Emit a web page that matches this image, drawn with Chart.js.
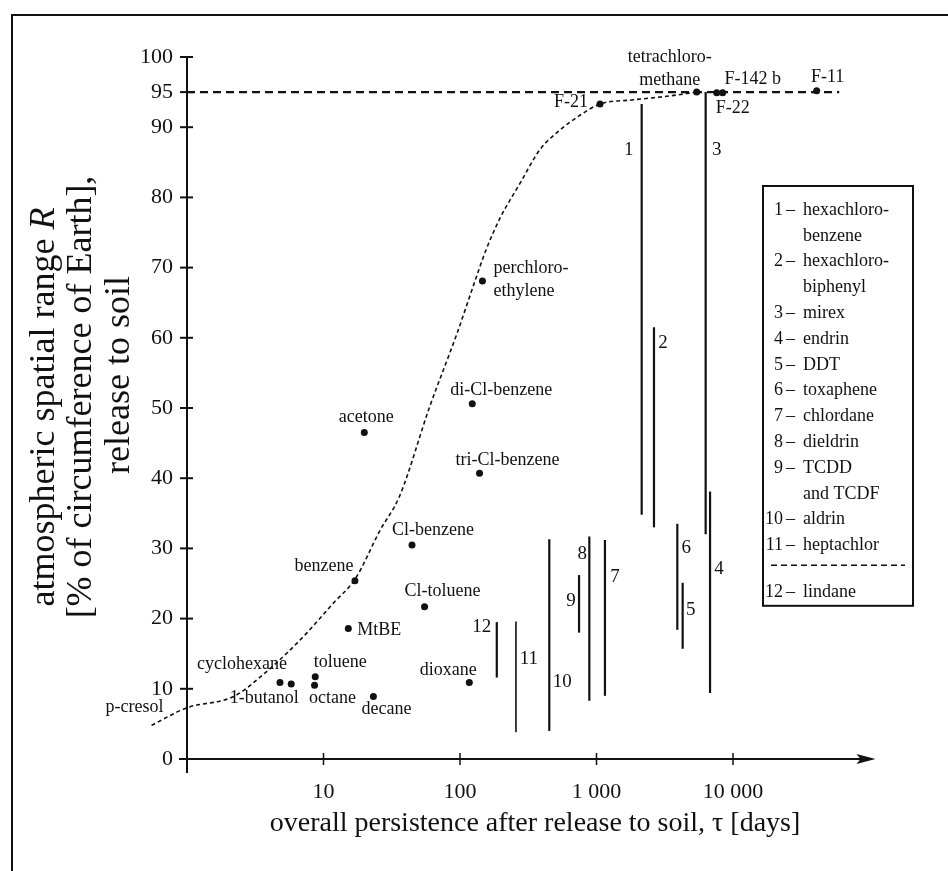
<!DOCTYPE html>
<html lang="en">
<head>
<meta charset="UTF-8">
<title>Atmospheric spatial range vs. persistence</title>
<style>
  html, body { margin: 0; padding: 0; background: #fff; }
  #wrap { width: 948px; height: 871px; position: relative; }
</style>
</head>
<body>
<div id="wrap"><canvas id="chart"></canvas></div>

<script src="https://cdn.jsdelivr.net/npm/chart.js"></script>
<script>
// single compounds: overall persistence tau [days] and spatial range R [%]
const compoundNames = ['p-cresol', 'cyclohexane', '1-butanol', 'toluene', 'octane', 'MtBE', 'decane',
  'dioxane', 'Cl-toluene', 'benzene', 'Cl-benzene', 'acetone', 'tri-Cl-benzene', 'di-Cl-benzene',
  'perchloro-\nethylene', 'F-21', 'tetrachloro-\nmethane', 'F-22', 'F-142 b', 'F-11'];
const compoundTau = [0.55, 4.8, 5.8, 8.7, 8.6, 15.2, 23.2, 117, 55, 17, 44.5, 19.9, 139, 123, 146,
  1061, 5420, 7600, 8400, 41000];
const compoundR = [4.8, 10.9, 10.7, 11.7, 10.5, 18.6, 8.9, 10.9, 21.7, 25.4, 30.5, 46.5, 40.7, 50.6, 68.1,
  93.3, 95, 94.9, 94.9, 95.2];

// numbered substances: ranges of R at a given tau
const rangeIds = ['1', '2', '3', '4', '5', '6', '7', '8', '9', '10', '11', '12'];
const rangeTau = [2143, 2637, 6305, 6790, 4277, 3909, 1153, 886, 745, 451, 257, 186];
const rangeLow = [34.8, 33.0, 32.0, 9.4, 15.7, 18.4, 9.0, 8.3, 18.0, 4.0, 3.8, 11.6];
const rangeHigh = [93.3, 61.5, 95, 38.1, 25.1, 33.5, 31.2, 31.7, 26.2, 31.3, 19.6, 19.5];

// dashed trend curve
const curveTau = [0.55, 1, 2.2, 3.6, 5.4, 7.5, 11.8, 17, 26, 36, 60, 95, 132, 155, 196, 275, 385, 540,
  757, 1061, 1860, 3270, 5420];
const curveR = [4.8, 7.3, 8.9, 12.0, 15.1, 17.9, 22.2, 25.6, 32.6, 37.4, 50.2, 60.6, 68.7, 72.5, 77, 82,
  86.8, 89.6, 91.7, 93.3, 93.9, 94.4, 95];

// 95 % plateau
const plateauTau = [1, 60000];
const plateauR = [95, 95];

// axes
const xTicks = [10, 100, 1000, 10000];
const xTickLabels = ['10', '100', '1 000', '10 000'];
const yTicks = [0, 10, 20, 30, 40, 50, 60, 70, 80, 90, 95, 100];

// legend box
const legendNums = ['1', '', '2', '', '3', '4', '5', '6', '7', '8', '9', '', '10', '11', '12'];
const legendText = ['hexachloro-', 'benzene', 'hexachloro-', 'biphenyl', 'mirex', 'endrin', 'DDT',
  'toxaphene', 'chlordane', 'dieldrin', 'TCDD', 'and TCDF', 'aldrin', 'heptachlor', 'lindane'];

// label placement (pixels relative to the point): dx, dy, align
const compoundLabelPos = [
  [-17, -18, 'center'], [-38, -18, 'center'], [-27, 14, 'center'], [25, -15, 'center'],
  [18, 13, 'center'], [9, 2, 'left'], [13, 13, 'center'], [-21, -12, 'center'],
  [18, -15, 'center'], [-31, -14, 'center'], [21, -15, 'center'], [2, -15, 'center'],
  [28, -13, 'center'], [29, -14, 'center'], [11, -13, 'left'], [-12, -2, 'right'],
  [-27, -35, 'center'], [16, 15, 'center'], [30, -14, 'center'], [11, -13, 'center']
];
// range number placement: dx from the bar, dy below the bar top
const rangeLabelPos = [[-13, 46], [9, 16], [11, 58], [9, 77], [8, 27], [9, 24], [10, 37], [-7, 18],
  [-8, 26], [13, 143], [13, 38], [-15, 5]];

const ink = '#111';
const serif = "'Liberation Serif', 'DejaVu Serif', serif";

const datasets = [];
datasets.push({
  label: 'compounds',
  data: compoundTau.map((t, i) => ({ x: t, y: compoundR[i] })),
  showLine: false,
  pointRadius: 3.5,
  pointBackgroundColor: ink,
  pointBorderWidth: 0,
  clip: false
});
datasets.push({
  label: 'trend',
  data: curveTau.map((t, i) => ({ x: t, y: curveR[i] })),
  showLine: true,
  borderColor: ink,
  borderWidth: 1.6,
  borderDash: [4, 3],
  pointRadius: 0,
  cubicInterpolationMode: 'monotone',
  clip: false
});
datasets.push({
  label: 'plateau',
  data: plateauTau.map((t, i) => ({ x: t, y: plateauR[i] })),
  showLine: true,
  borderColor: ink,
  borderWidth: 2.2,
  borderDash: [8, 5],
  pointRadius: 0,
  clip: false
});
rangeTau.forEach((t, i) => {
  datasets.push({
    label: 'range ' + rangeIds[i],
    data: [{ x: t, y: rangeLow[i] }, { x: t, y: rangeHigh[i] }],
    showLine: true,
    borderColor: ink,
    borderWidth: i === 10 ? 1.6 : 2.2,
    pointRadius: 0,
    clip: false
  });
});

function drawText(ctx, text, x, y, align, lineH) {
  ctx.textAlign = align;
  text.split('\n').forEach((line, k) => ctx.fillText(line, x, y + k * lineH));
}

const annotate = {
  id: 'annotate',
  beforeDatasetsDraw(chart) {
    const ctx = chart.ctx;
    const xs = chart.scales.x, ys = chart.scales.y;
    const x0 = xs.getPixelForValue(1), y0 = ys.getPixelForValue(0);
    const yTop = ys.getPixelForValue(100);
    ctx.save();
    ctx.strokeStyle = ink;
    ctx.fillStyle = ink;

    // frame
    ctx.lineWidth = 2;
    ctx.beginPath();
    ctx.moveTo(12, 871); ctx.lineTo(12, 15); ctx.lineTo(948, 15);
    ctx.stroke();

    // y axis
    ctx.lineWidth = 2;
    ctx.beginPath();
    ctx.moveTo(x0, y0 + 14); ctx.lineTo(x0, yTop);
    ctx.stroke();
    yTicks.forEach(v => {
      const p = ys.getPixelForValue(v);
      ctx.beginPath(); ctx.moveTo(x0 - 7, p); ctx.lineTo(x0 + 6, p); ctx.stroke();
    });

    // x axis with arrow
    const xEnd = xs.right + 6;
    ctx.beginPath();
    ctx.moveTo(x0 - 8, y0); ctx.lineTo(xEnd - 10, y0);
    ctx.stroke();
    ctx.beginPath();
    ctx.moveTo(xEnd, y0); ctx.lineTo(xEnd - 19, y0 - 5); ctx.lineTo(xEnd - 15, y0); ctx.lineTo(xEnd - 19, y0 + 5);
    ctx.closePath(); ctx.fill();
    ctx.lineWidth = 1.5;
    xTicks.forEach(v => {
      const p = xs.getPixelForValue(v);
      ctx.beginPath(); ctx.moveTo(p, y0 - 6); ctx.lineTo(p, y0 + 6); ctx.stroke();
    });
    ctx.restore();
  },
  afterDatasetsDraw(chart) {
    const ctx = chart.ctx;
    const xs = chart.scales.x, ys = chart.scales.y;
    ctx.save();
    ctx.fillStyle = ink;
    ctx.strokeStyle = ink;
    ctx.textBaseline = 'middle';

    // compound labels
    ctx.font = '18px ' + serif;
    compoundNames.forEach((name, i) => {
      const px = xs.getPixelForValue(compoundTau[i]);
      const py = ys.getPixelForValue(compoundR[i]);
      const [dx, dy, align] = compoundLabelPos[i];
      drawText(ctx, name, px + dx, py + dy, align, 23);
    });

    // range numbers
    ctx.font = '19px ' + serif;
    rangeIds.forEach((id, i) => {
      const px = xs.getPixelForValue(rangeTau[i]);
      const top = ys.getPixelForValue(rangeHigh[i]);
      const [dx, dy] = rangeLabelPos[i];
      ctx.textAlign = 'center';
      ctx.fillText(id, px + dx, top + dy);
    });

    // legend box
    const bx = 763, by = 186, bw = 150, rowH = 25.8;
    let rowY = by + 24;
    ctx.font = '18px ' + serif;
    legendText.forEach((txt, i) => {
      if (legendNums[i] === '12') {
        ctx.save();
        ctx.lineWidth = 1.5;
        ctx.setLineDash([6, 4]);
        ctx.beginPath();
        ctx.moveTo(bx + 8, rowY - 6); ctx.lineTo(bx + bw - 8, rowY - 6);
        ctx.stroke();
        ctx.restore();
        rowY += rowH - 5;
      }
      if (legendNums[i]) {
        ctx.textAlign = 'right';
        ctx.fillText(legendNums[i], bx + 20, rowY);
        ctx.textAlign = 'left';
        ctx.fillText('\u2013', bx + 23, rowY);
      }
      ctx.textAlign = 'left';
      ctx.fillText(txt, bx + 40, rowY);
      rowY += rowH;
    });
    ctx.lineWidth = 2;
    ctx.strokeRect(bx, by, bw, rowY - by - 12);

    // axis titles
    ctx.font = '28px ' + serif;
    ctx.textAlign = 'center';
    ctx.fillText('overall persistence after release to soil, \u03c4 [days]', 535, 824);

    ctx.save();
    ctx.rotate(-Math.PI / 2);
    const ySize = 36;
    ctx.font = ySize + 'px ' + serif;
    const part1 = 'atmospheric spatial range ';
    const w1 = ctx.measureText(part1).width;
    ctx.font = 'italic ' + ySize + 'px ' + serif;
    const w2 = ctx.measureText('R').width;
    const start = -407 - (w1 + w2) / 2;
    ctx.textAlign = 'left';
    ctx.font = ySize + 'px ' + serif;
    ctx.fillText(part1, start, 45);
    ctx.font = 'italic ' + ySize + 'px ' + serif;
    ctx.fillText('R', start + w1, 45);
    ctx.font = ySize + 'px ' + serif;
    ctx.textAlign = 'center';
    ctx.fillText('[% of circumference of Earth],', -397, 82);
    ctx.fillText('release to soil', -375, 120);
    ctx.restore();

    ctx.restore();
  }
};

new Chart(document.getElementById('chart'), {
  type: 'scatter',
  data: { datasets },
  options: {
    responsive: true,
    maintainAspectRatio: false,
    animation: false,
    devicePixelRatio: 1,
    layout: { padding: { top: 57, right: 78.5, bottom: 0, left: 0 } },
    plugins: { legend: { display: false }, tooltip: { enabled: false } },
    scales: {
      x: {
        type: 'logarithmic',
        min: 1,
        max: 100000,
        grid: { display: false, drawTicks: false },
        border: { display: false },
        afterBuildTicks: s => { s.ticks = xTicks.map(v => ({ value: v })); },
        afterFit: s => { s.height = 112; },
        ticks: {
          callback: (v, i) => xTickLabels[i],
          font: { family: serif, size: 22 },
          color: ink,
          padding: 20,
          maxRotation: 0,
          autoSkip: false
        }
      },
      y: {
        type: 'linear',
        min: 0,
        max: 100,
        grid: { display: false, drawTicks: false },
        border: { display: false },
        afterBuildTicks: s => { s.ticks = yTicks.map(v => ({ value: v })); },
        afterFit: s => { s.width = 187; },
        ticks: {
          font: { family: serif, size: 22 },
          color: ink,
          padding: 14,
          autoSkip: false
        }
      }
    }
  },
  plugins: [annotate]
});
</script>
</body>
</html>
